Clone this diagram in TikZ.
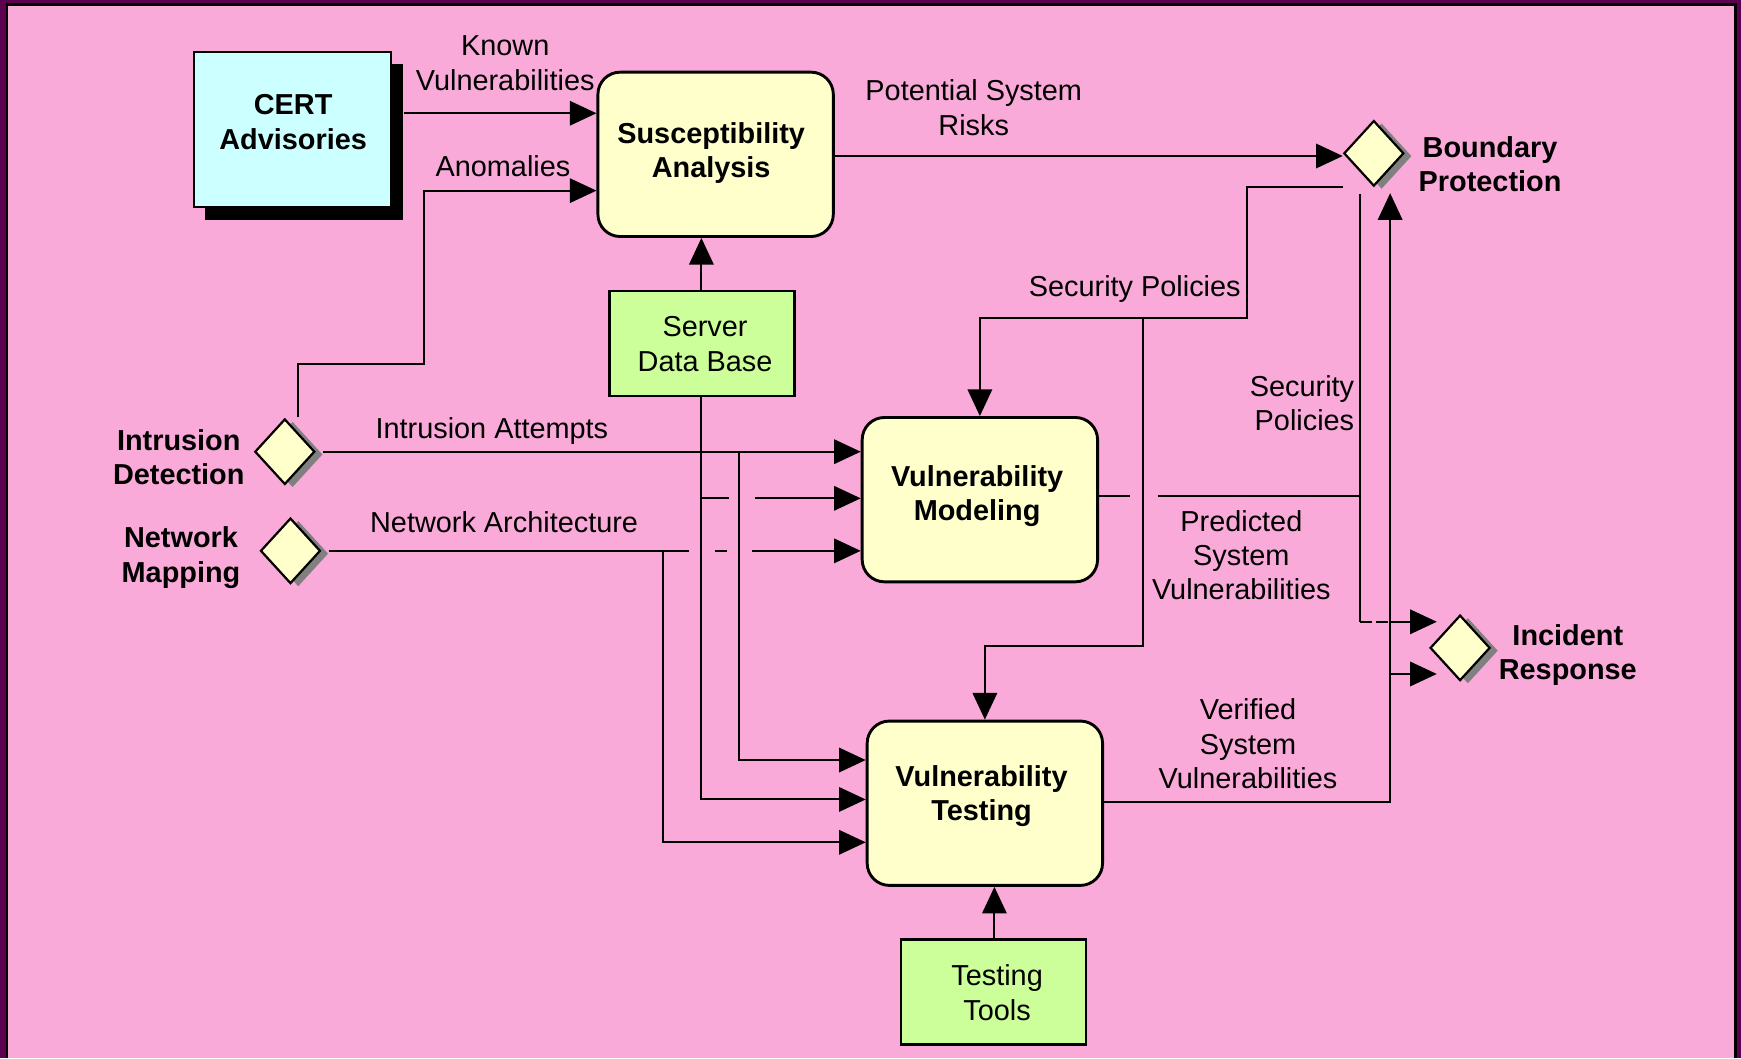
\documentclass[tikz,border=0pt]{standalone}
\usepackage{fontspec}
\setmainfont{Liberation Sans}
\usetikzlibrary{arrows.meta,shapes.geometric}
\definecolor{framepurple}{RGB}{92,0,80}
\definecolor{bgpink}{RGB}{249,170,216}
\definecolor{advcyan}{RGB}{204,255,255}
\definecolor{procyellow}{RGB}{255,255,204}
\definecolor{resgreen}{RGB}{204,255,153}
\definecolor{shadowgray}{RGB}{128,128,128}
\newcommand{\diagfont}{\fontsize{13pt}{15.5pt}\selectfont}

\begin{document}
\begin{tikzpicture}[x=0.5pt,y=-0.5pt,
  proc/.style={draw, line width=1.3pt, fill=procyellow, rounded corners=10pt,
    minimum width=106pt, minimum height=74pt, inner sep=0pt},
  resbox/.style={draw, line width=1.1pt, fill=resgreen, minimum width=83.3pt,
    minimum height=47.2pt, inner sep=0pt},
  gate/.style={diamond, draw, line width=1pt, fill=procyellow,
    minimum width=27pt, minimum height=29.5pt, inner sep=0pt},
  gateshadow/.style={diamond, fill=shadowgray, minimum width=27pt,
    minimum height=29.5pt, inner sep=0pt},
  lbl/.style={align=center, font=\diagfont, inner sep=0pt},
  blbl/.style={align=center, font=\diagfont\bfseries, inner sep=0pt},
  conn/.style={line width=0.9pt},
  arr/.style={conn, -{Triangle[length=12pt,width=11pt]}}]

% frame and background
\useasboundingbox (0,0) rectangle (1568,953);
\fill[framepurple] (0,0) rectangle (1568,953);
\fill[black] (5.4,3) rectangle (1564.4,953);
\fill[bgpink] (7.2,5) rectangle (1561.7,953);

% source box with drop shadow
\node[fill=black, minimum width=89pt, minimum height=70pt, inner sep=0pt] (certsh) at (274,128) {};
\node[draw, line width=0.9pt, fill=advcyan, minimum width=88.5pt, minimum height=69.7pt, inner sep=0pt] (cert) at (263.5,116.5) {};
\node[blbl] (certtxt) at (264,110) {CERT\\Advisories};

% process boxes
\node[proc] (sa) at (644.5,139) {};
\node[blbl] (satxt) at (640.5,138) {Susceptibility\\Analysis};
\node[proc] (vm) at (882.5,450) {};
\node[blbl] (vmtxt) at (880,447) {Vulnerability\\Modeling};
\node[proc] (vt) at (887,723.4) {};
\node[blbl] (vttxt) at (884,717) {Vulnerability\\Testing};

% resource boxes
\node[resbox] (srv) at (632.3,309.2) {};
\node[lbl] (srvtxt) at (635,310) {Server\\Data Base};
\node[resbox] (tt) at (894.6,893.5) {};
\node[lbl] (tttxt) at (898,894) {Testing\\Tools};

% diamonds with shadows
\node[gateshadow] (bpsh) at (1244.3,140.6) {};
\node[gate] (bp) at (1237.3,138.1) {};
\node[gateshadow] (idsh) at (263.5,409.3) {};
\node[gate] (id) at (256.5,406.8) {};
\node[gateshadow] (nmsh) at (268.6,498.6) {};
\node[gate] (nm) at (261.6,496.1) {};
\node[gateshadow] (irsh) at (1322,586) {};
\node[gate] (ir) at (1315,583.5) {};

% helper coordinates for routing
\coordinate (yKnown) at (0,102);
\coordinate (yAnom) at (0,171.7);
\coordinate (anomStart) at (268.3,376);
\coordinate (anomBend) at (381.9,328);
\coordinate (xSrv) at (631.7,0);
\coordinate (yRisk) at (0,140.5);
\coordinate (xPol) at (1123.4,0);
\coordinate (yPol) at (0,286);
\coordinate (xPolB) at (1029,0);
\coordinate (yPolB) at (0,581.5);
\coordinate (xIR) at (1225,0);
\coordinate (xV) at (1252,0);
\coordinate (irDrop) at (1225,174.6);
\coordinate (yIRa) at (0,560);
\coordinate (yIRb) at (0,607);
\coordinate (irDashEnd) at (1262,560);
\coordinate (irTipA) at (1294,560);
\coordinate (irTipB) at (1294,607);
\coordinate (yPred) at (0,447);
\coordinate (predGapL) at (1018,447);
\coordinate (predGapR) at (1042.6,447);
\coordinate (yVer) at (0,722.6);
\coordinate (bpTip) at (1252,174);
\coordinate (xIA) at (666,0);
\coordinate (yT1) at (0,684.5);
\coordinate (yT2) at (0,720);
\coordinate (yT3) at (0,758.6);
\coordinate (nwGap1) at (620.3,496.1);
\coordinate (nwDashL) at (644,496.1);
\coordinate (nwDashR) at (654.7,496.1);
\coordinate (nwGap2) at (677.7,496.1);
\coordinate (xNA) at (597.3,0);
\coordinate (ySrv) at (0,448.8);
\coordinate (srvGap1) at (657,448.8);
\coordinate (srvGap2) at (680,448.8);
\coordinate (xTT) at (895.6,0);

% connectors into susceptibility analysis
\draw[arr] (certsh.east |- yKnown) -- (sa.west |- yKnown);
\draw[arr] (anomStart) |- (anomBend) |- (sa.west |- yAnom);
\draw[arr] (srv.north -| xSrv) -- (sa.south -| xSrv);
\draw[arr] (sa.east |- yRisk) -- (bp.west |- yRisk);

% security policies
\draw[arr] (bp.west |- bp.south) -| (xPol |- yPol) -| (vm.north);
\draw[arr] (xPolB |- yPol) |- (vt.north |- yPolB) -- (vt.north);
\draw[conn] (irDrop) -- (xIR |- yIRa);
\draw[conn, dash pattern=on 5.5pt off 1.5pt] (xIR |- yIRa) -- (irDashEnd);
\draw[arr] (irDashEnd) -- (irTipA);

% predicted and verified vulnerabilities
\draw[conn] (vm.east |- yPred) -- (predGapL);
\draw[conn] (predGapR) -- (xIR |- yPred);
\draw[arr] (vt.east |- yVer) -| (bpTip);
\draw[arr] (xV |- yIRb) -- (irTipB);

% intrusion attempts
\draw[arr] (idsh.east |- id.east) -- (vm.west |- id.east);
\draw[arr] (xIA |- id.east) |- (vt.west |- yT1);

% network architecture
\draw[conn] (nmsh.east |- nm.east) -- (nwGap1);
\draw[conn] (nwDashL) -- (nwDashR);
\draw[arr] (nwGap2) -- (vm.west |- nm.east);
\draw[arr] (xNA |- nm.east) |- (vt.west |- yT3);

% server data base
\draw[arr] (srv.south -| xSrv) |- (vt.west |- yT2);
\draw[conn] (xSrv |- ySrv) -- (srvGap1);
\draw[arr] (srvGap2) -- (vm.west |- ySrv);

% testing tools
\draw[arr] (tt.north -| xTT) -- (vt.south -| xTT);

% flow labels
\node[lbl] (lknown) at (455,57) {Known\\Vulnerabilities};
\node[lbl] (lanom) at (453,150) {Anomalies};
\node[lbl] (lrisk) at (877,97) {Potential System\\Risks};
\node[lbl] (lpol) at (1022,260) {Security Policies};
\node[lbl, align=right, anchor=east] (lpol2) at (1220,363) {Security\\Policies};
\node[lbl] (lia) at (443,388) {Intrusion Attempts};
\node[lbl] (lna) at (454,470) {Network Architecture};
\node[lbl] (lpred) at (1118,500) {Predicted\\System\\Vulnerabilities};
\node[lbl] (lver) at (1124,670) {Verified\\System\\Vulnerabilities};

% gate labels
\node[blbl] (lbp) at (1342,148) {Boundary\\Protection};
\node[blbl] (lid) at (161,412) {Intrusion\\Detection};
\node[blbl] (lnm) at (163,502) {Network\\Mapping};
\node[blbl] (lir) at (1412,590) {Incident\\Response};
\end{tikzpicture}
\end{document}
